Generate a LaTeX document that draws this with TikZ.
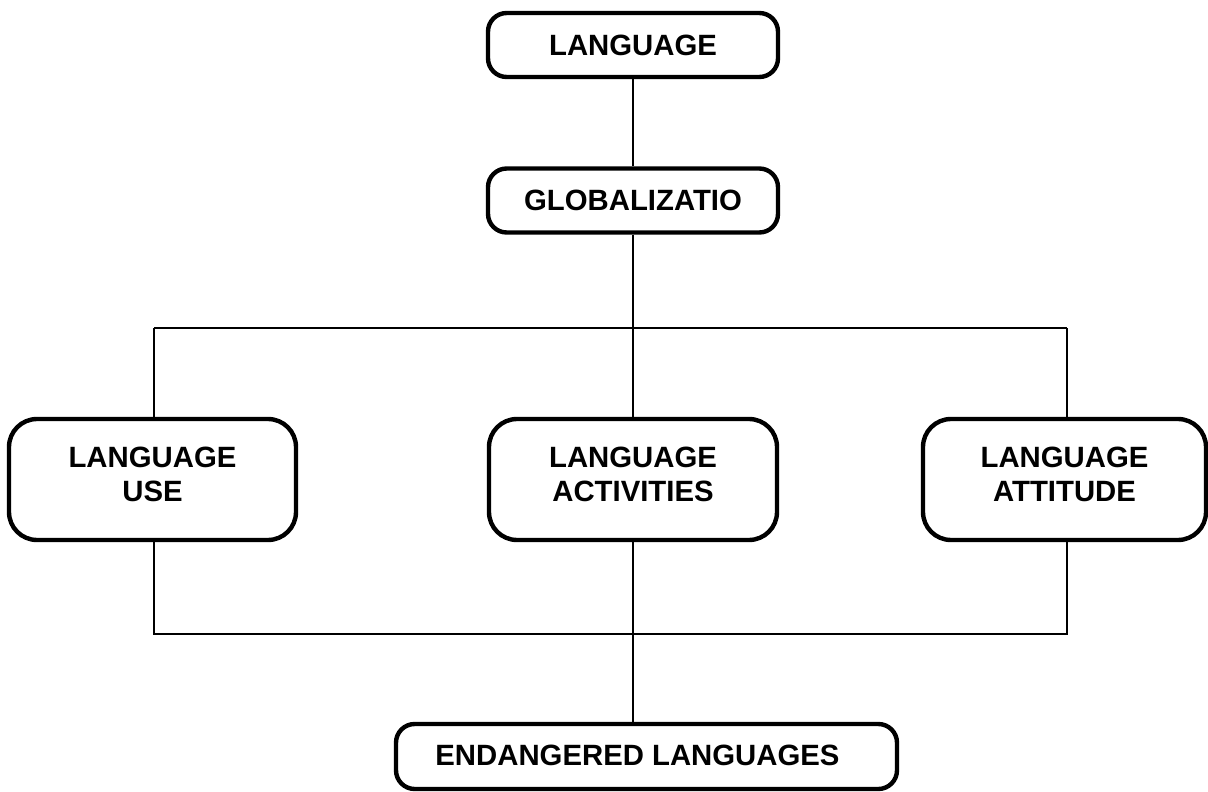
\documentclass[tikz,border=0pt]{standalone}
\usepackage{fontspec}
\setmainfont{Liberation Sans}
\begin{document}
\begin{tikzpicture}[x=0.75pt,y=-0.75pt,
  txt/.style={align=center, inner sep=0pt, font=\fontsize{22}{26}\selectfont\bfseries},
  box/.style={draw, line width=3.3pt, rounded corners=14pt, inner sep=0pt, txt},
  bigbox/.style={draw, line width=3.3pt, rounded corners=21pt, inner sep=0pt, minimum height=90.75pt},
  lbl/.style={txt, yshift=3.75pt},
  conn/.style={line width=1.1pt}]
\useasboundingbox (0,0) rectangle (1208,792);
\node[box, minimum width=217.5pt, minimum height=48pt] (lang) at (633,45) {LANGUAGE};
\node[box, minimum width=217.5pt, minimum height=48pt] (glob) at (633,200.5) {GLOBALIZATIO};
\node[bigbox, minimum width=215.25pt, label={[lbl]center:LANGUAGE\\USE}] (left) at (152.5,479.5) {};
\node[bigbox, minimum width=216pt, label={[lbl]center:LANGUAGE\\ACTIVITIES}] (mid) at (633,479.5) {};
\node[bigbox, minimum width=212.25pt, label={[lbl]center:LANGUAGE\\ATTITUDE}] (right) at (1064.5,479.5) {};
\node[draw, line width=3.3pt, rounded corners=14pt, inner sep=0pt, minimum width=375.75pt, minimum height=48.75pt,
  label={[txt, xshift=-6.75pt, yshift=1pt]center:ENDANGERED LANGUAGES}] (bot) at (646.5,756.5) {};
\coordinate (t) at (633,328);
\coordinate (tl) at (154,328);
\coordinate (tr) at (1067,328);
\coordinate (b) at (633,634);
\coordinate (bl) at (154,634);
\coordinate (br) at (1067,634);
\draw[conn] (lang) -- (glob);
\draw[conn] (glob) -- (t);
\draw[conn] (tl) -- (tr);
\draw[conn] (tl) -- (tl |- left.north);
\draw[conn] (t) -- (mid);
\draw[conn] (tr) -- (tr |- right.north);
\draw[conn] (bl |- left.south) -- (bl) -- (br) -- (br |- right.south);
\draw[conn] (mid) -- (b);
\draw[conn] (b) -- (b |- bot.north);
\end{tikzpicture}
\end{document}
